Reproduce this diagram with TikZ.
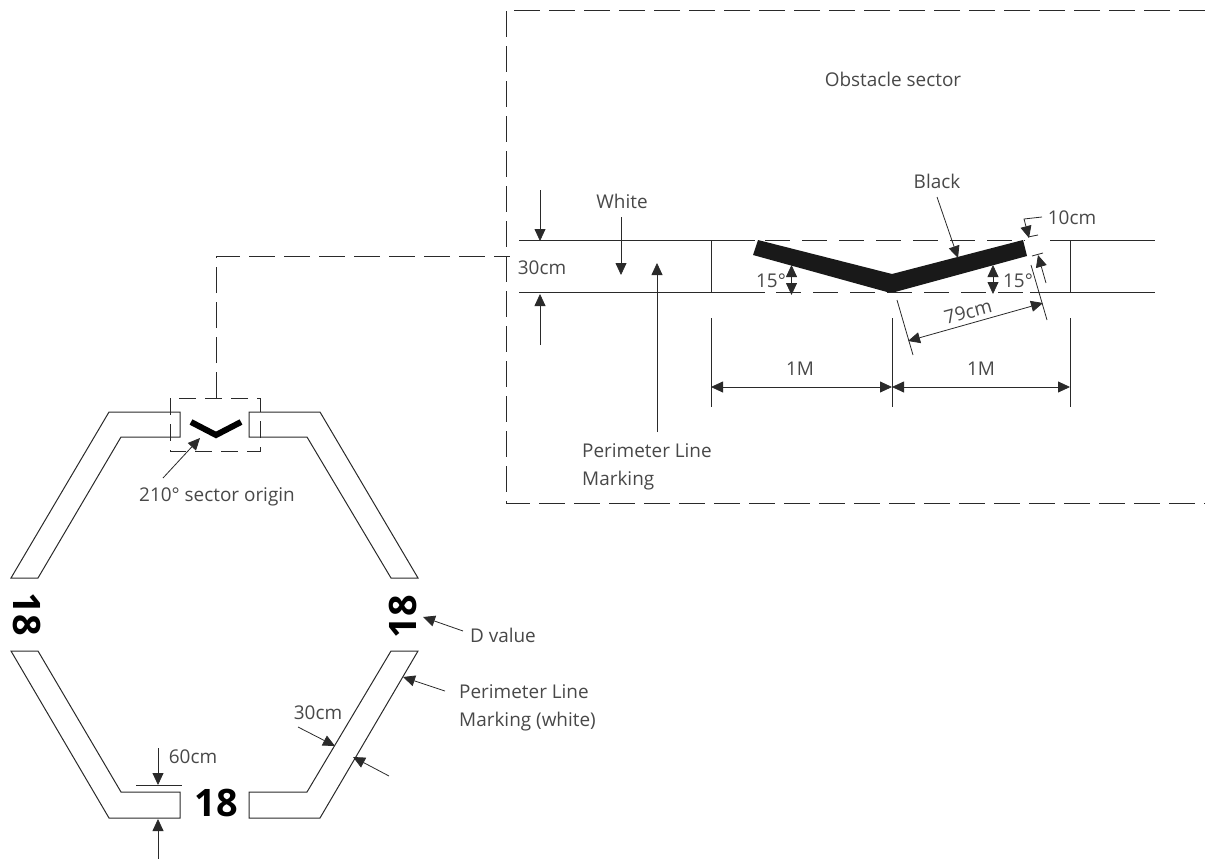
\documentclass[tikz,border=0pt]{standalone}
\usepackage{fontspec}
\setmainfont{Open Sans}
\usetikzlibrary{arrows.meta}
\definecolor{ink}{HTML}{2A2A2A}
\definecolor{txt}{HTML}{484848}
\tikzset{
  line/.style={draw=ink,line width=1bp},
  thin line/.style={draw=ink,line width=0.8bp},
  dash line/.style={draw=ink,line width=1bp,dash pattern=on 26bp off 9bp},
  small dash/.style={draw=ink,line width=1bp,dash pattern=on 17bp off 9bp},
  arr/.style={thin line,-{Triangle[length=12bp,width=11bp]}},
  darr/.style={thin line,{Triangle[length=12bp,width=11bp]}-{Triangle[length=12bp,width=11bp]}},
  lbl/.style={inner sep=0pt,text=txt,font=\fontsize{19}{28}\selectfont},
  big/.style={inner sep=0pt,text=black,font=\fontsize{38}{38}\bfseries\selectfont},
}
\newcommand{\ar}[6]{\coordinate (#1a) at (#2,#3);\coordinate (#1b) at (#4,#5);\draw[#6] (#1a) -- (#1b);}
\begin{document}
\begin{tikzpicture}[x=1bp,y=-1bp]
\useasboundingbox (0,0) rectangle (1205,859);
% Perimeter markings
\draw[line] (11,578) -- (109,412) -- (180,412) -- (180,437) -- (121,437) -- (38,578) -- cycle;
\draw[line] (418,578) -- (320,412) -- (249,412) -- (249,437) -- (307,437) -- (391,578) -- cycle;
\draw[line] (11,651) -- (109,818) -- (180,818) -- (180,792) -- (121,792) -- (38,651) -- cycle;
\draw[line] (418,651) -- (320,818) -- (249,818) -- (249,792) -- (307,792) -- (391,651) -- cycle;
% Small sector marker
\draw[draw=black,line width=6bp,line join=miter] (191,422) -- (216,435) -- (241,422);
\coordinate (boxtop) at (216,398);
\coordinate (leadercorner) at (216,256);
\coordinate (leaderend) at (510,256);
\draw[small dash] (170,398) rectangle (260,451);
\draw[dash line] (boxtop) -- (leadercorner) -- (leaderend);
% Obstacle sector frame
\draw[dash line] (1205,10) -- (506,10) -- (506,503) -- (1205,503);
% Strip
\draw[line] (519,240) -- (755,240);
\draw[line] (519,292) -- (765,292);
\draw[line] (1050,240) -- (1155,240);
\draw[line] (1030,292) -- (1155,292);
\draw[line,dash pattern=on 25bp off 12bp] (765,240) -- (1025,240);
\draw[line,dash pattern=on 25bp off 12bp] (776,292) -- (1030,292);
\draw[line] (711,240) -- (711,292);
\draw[line] (1070,240) -- (1070,292);
% Black chevron
\fill[black!90] (758,240) -- (892,274) -- (1023,240) -- (1027,256) -- (895,292) -- (887,292) -- (753,255) -- cycle;
% Dimension extension lines
\draw[thin line] (711,318) -- (711,407);
\draw[thin line] (892,318) -- (892,407);
\draw[thin line] (1070,318) -- (1070,407);
\draw[thin line] (897,300) -- (913,355);
\draw[thin line] (1031,265) -- (1047,320);
\draw[thin line] (1028,237) -- (1038,235);
\draw[thin line] (1032,256) -- (1043,253);
\draw[thin line] (136,785) -- (182,785);
% Arrows
\ar{aa}{540}{190}{540}{241}{arr}
\ar{ab}{540}{345}{540}{294}{arr}
\ar{ac}{621}{217}{621}{275}{arr}
\ar{ad}{657}{432}{657}{263}{arr}
\ar{ae}{711}{387}{892}{387}{darr}
\ar{af}{892}{387}{1070}{387}{darr}
\ar{ag}{791.5}{265}{791.5}{295}{darr}
\ar{ah}{993}{265}{993}{294}{darr}
\ar{ai}{937}{197}{958}{258}{arr}
\coordinate (ajb) at (1024,219);
\coordinate (aja) at (1042,217);
\coordinate (ajc) at (1029,238);
\draw[arr] (aja) -- (ajb) -- (ajc);
\ar{ak}{1046}{283}{1038}{255}{arr}
\ar{al}{908}{341}{1043}{303}{darr}
\ar{am}{463}{631}{423}{617}{arr}
\ar{an}{445}{691}{403}{677}{arr}
\ar{ao}{298}{727}{335}{746}{arr}
\ar{ap}{389}{776}{353}{757}{arr}
\ar{aq}{158}{748}{158}{785}{arr}
\ar{ar}{158}{859}{158}{819}{arr}
\ar{as}{163}{478}{200}{438}{arr}
% Labels
\node[lbl] (obstacle) at (893,79) {Obstacle sector};
\node[lbl] (white) at (622,201) {White};
\node[lbl] (black) at (937,181) {Black};
\node[lbl] (tencm) at (1072,218) {10cm};
\node[lbl] (thirtyA) at (542,268) {30cm};
\node[lbl] (angleA) at (771,281) {15°};
\node[lbl] (angleB) at (1018,281) {15°};
\node[lbl,rotate=15] (sevnine) at (968,312) {79cm};
\node[lbl] (meterA) at (800,369) {1M};
\node[lbl] (meterB) at (981,369) {1M};
\node[lbl,anchor=west,align=left] (perimA) at (582,467) {Perimeter Line\\Marking};
\node[lbl] (origin) at (217,497) {210° sector origin};
\node[lbl] (dval) at (503,635) {D value};
\node[lbl,anchor=west,align=left] (perimB) at (459,708) {Perimeter Line\\Marking (white)};
\node[lbl] (thirtyB) at (318,713) {30cm};
\node[lbl] (sixty) at (193,757) {60cm};
\node[big] (numB) at (216,803) {18};
\node[big,rotate=-90] (numL) at (27,614) {18};
\node[big,rotate=90] (numR) at (403,617) {18};
\end{tikzpicture}
\end{document}
